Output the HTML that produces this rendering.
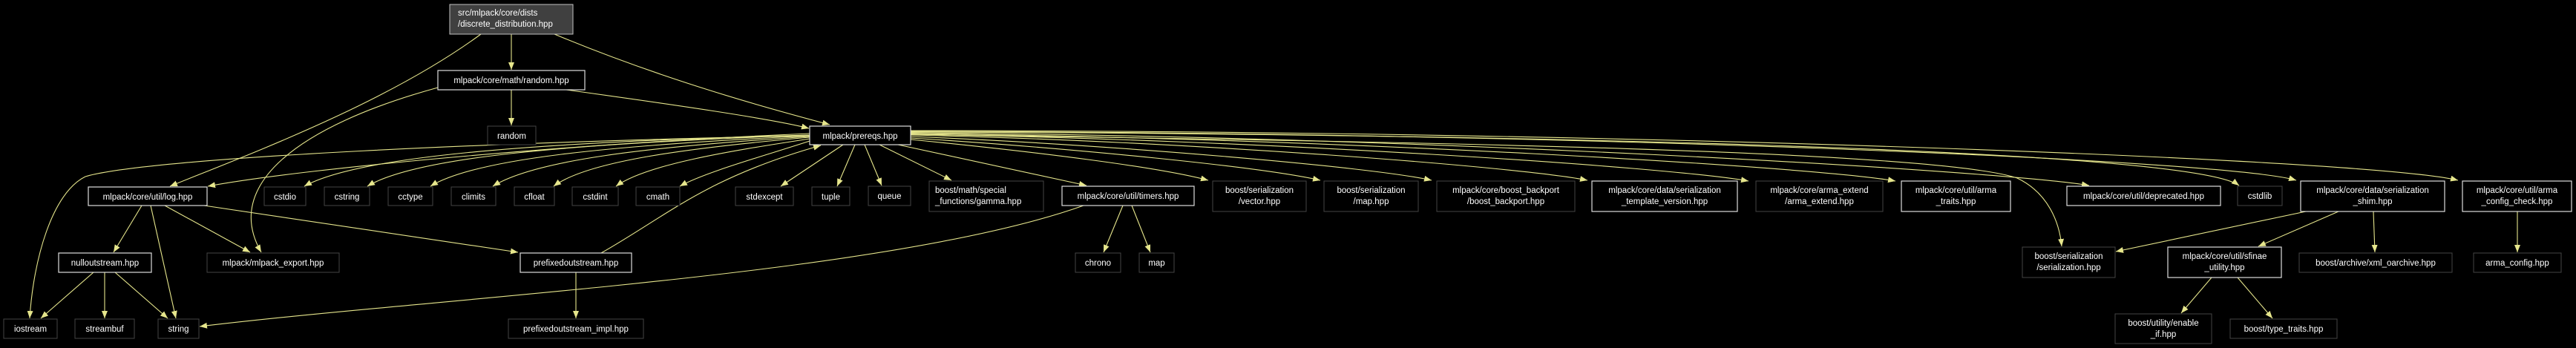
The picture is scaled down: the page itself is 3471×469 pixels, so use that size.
<!DOCTYPE html>
<html><head><meta charset="utf-8"><style>
html,body{margin:0;padding:0;background:#000;}
svg{display:block;}
text{font-family:"Liberation Sans",sans-serif;font-size:11.5px;fill:#fff;}
.n{fill:#000;stroke:#444;stroke-width:1}
.w{fill:#000;stroke:#ddd;stroke-width:1.2}
.e{fill:none;stroke:#e6e68c;stroke-width:1.1}
</style></head><body>
<svg width="3471" height="469" viewBox="0 0 3471 469" xmlns="http://www.w3.org/2000/svg">
<defs><marker id="a" markerUnits="userSpaceOnUse" markerWidth="11" markerHeight="8" refX="10" refY="4" orient="auto"><path d="M0,0 L10,4 L0,8 z" fill="#e6e68c"/></marker></defs>
<g class="e" marker-end="url(#a)">
<path d="M689,46 L689,94"/>
<path d="M648,46 C520,140 330,210 229,251"/>
<path d="M747,46 C900,110 1050,150 1118,168"/>
<path d="M689,121 L689,169"/>
<path d="M763,121 C900,140 1040,160 1090,173"/>
<path d="M590,118 C400,170 300,250 352,340"/>
<path d="M1091,180 C800,192 420,225 280,251"/>
<path d="M1091,183 C700,190 200,212 115,238 C70,260 45,350 40,429"/>
<path d="M1091,182 C700,192 480,212 410,251"/>
<path d="M1091,182 C760,194 560,212 495,251"/>
<path d="M1091,183 C820,196 640,214 580,251"/>
<path d="M1091,184 C870,198 720,216 664,251"/>
<path d="M1091,185 C920,200 790,218 746,251"/>
<path d="M1091,187 C980,204 870,222 830,251"/>
<path d="M1091,190 C1030,210 950,232 916,251"/>
<path d="M1136,195 L1052,251"/>
<path d="M1152,195 L1128,251"/>
<path d="M1165,195 L1188,250"/>
<path d="M1185,195 L1282,243"/>
<path d="M1210,195 L1464,250"/>
<path d="M1227,188 C1400,205 1560,225 1628,243"/>
<path d="M1227,186 C1450,200 1700,225 1779,243"/>
<path d="M1227,184 C1500,195 1850,225 1929,243"/>
<path d="M1227,182 C1600,190 2050,225 2139,243"/>
<path d="M1227,181 C1700,188 2250,225 2356,244"/>
<path d="M1227,180 C1800,186 2450,225 2554,244"/>
<path d="M1227,179 C1900,183 2700,230 2815,250"/>
<path d="M1227,178 C2000,180 2950,200 3017,250"/>
<path d="M1227,177 C2100,178 3000,215 3094,243"/>
<path d="M1227,176 C2200,176 3200,215 3312,243"/>
<path d="M1227,181 C1800,190 2600,200 2718,240 C2760,260 2775,300 2778,332"/>
<path d="M1460,277 C1200,370 600,400 269,440"/>
<path d="M1513,277 L1487,340"/>
<path d="M1525,277 L1550,340"/>
<path d="M191,277 L153,340"/>
<path d="M203,277 L237,429"/>
<path d="M222,277 L337,340"/>
<path d="M275,277 L698,340"/>
<path d="M810,341 C900,290 950,240 1106,196"/>
<path d="M776,367 L776,429"/>
<path d="M126,367 L55,429"/>
<path d="M141,367 L141,429"/>
<path d="M155,367 L226,429"/>
<path d="M3107,285 L2851,339"/>
<path d="M3151,285 L3043,332"/>
<path d="M3198,285 L3200,340"/>
<path d="M3392,285 L3392,340"/>
<path d="M2980,374 L2939,422"/>
<path d="M3015,374 L3062,429"/>
</g>
<rect x="606" y="6" width="166" height="40" fill="#404040" stroke="#bfbfbf"/>
<text x="617" y="21">src/mlpack/core/dists</text><text x="617" y="36">/discrete_distribution.hpp</text>
<g text-anchor="middle">
<rect class="w" x="590" y="95" width="198" height="26"/><text x="689" y="112">mlpack/core/math/random.hpp</text>
<rect class="n" x="657" y="170" width="65" height="25"/><text x="689.5" y="187">random</text>
<rect class="w" x="1091" y="170" width="136" height="25"/><text x="1159" y="187">mlpack/prereqs.hpp</text>
<rect class="w" x="119" y="252" width="160" height="25"/><text x="199" y="269">mlpack/core/util/log.hpp</text>
<rect class="n" x="356" y="252" width="56" height="25"/><text x="384" y="269">cstdio</text>
<rect class="n" x="437" y="252" width="61" height="25"/><text x="467.5" y="269">cstring</text>
<rect class="n" x="523" y="252" width="60" height="25"/><text x="553" y="269">cctype</text>
<rect class="n" x="608" y="252" width="60" height="25"/><text x="638" y="269">climits</text>
<rect class="n" x="693" y="252" width="54" height="25"/><text x="720" y="269">cfloat</text>
<rect class="n" x="771" y="252" width="62" height="25"/><text x="802" y="269">cstdint</text>
<rect class="n" x="857" y="252" width="59" height="25"/><text x="886.5" y="269">cmath</text>
<rect class="n" x="991" y="252" width="78" height="25"/><text x="1030" y="269">stdexcept</text>
<rect class="n" x="1094" y="252" width="51" height="25"/><text x="1119.5" y="269">tuple</text>
<rect class="n" x="1170" y="251" width="57" height="26"/><text x="1198.5" y="268">queue</text>
<rect class="w" x="1431" y="251" width="178" height="26"/><text x="1520" y="268">mlpack/core/util/timers.hpp</text>
<rect class="n" x="1634" y="244" width="126" height="41"/><text x="1697" y="260">boost/serialization</text><text x="1697" y="275">/vector.hpp</text>
<rect class="n" x="1784" y="244" width="127" height="41"/><text x="1847.5" y="260">boost/serialization</text><text x="1847.5" y="275">/map.hpp</text>
<rect class="n" x="1936" y="244" width="186" height="41"/><text x="2029" y="260">mlpack/core/boost_backport</text><text x="2029" y="275">/boost_backport.hpp</text>
<rect class="w" x="2145" y="244" width="196" height="41"/><text x="2243" y="260">mlpack/core/data/serialization</text><text x="2243" y="275">_template_version.hpp</text>
<rect class="n" x="2366" y="244" width="171" height="41"/><text x="2451.5" y="260">mlpack/core/arma_extend</text><text x="2451.5" y="275">/arma_extend.hpp</text>
<rect class="w" x="2562" y="244" width="147" height="41"/><text x="2635.5" y="260">mlpack/core/util/arma</text><text x="2635.5" y="275">_traits.hpp</text>
<rect class="w" x="2785" y="251" width="207" height="26"/><text x="2888.5" y="268">mlpack/core/util/deprecated.hpp</text>
<rect class="n" x="3015" y="251" width="60" height="26"/><text x="3045" y="268">cstdlib</text>
<rect class="w" x="3100" y="244" width="194" height="41"/><text x="3197" y="260">mlpack/core/data/serialization</text><text x="3197" y="275">_shim.hpp</text>
<rect class="w" x="3318" y="244" width="147" height="41"/><text x="3391.5" y="260">mlpack/core/util/arma</text><text x="3391.5" y="275">_config_check.hpp</text>
<rect class="w" x="79" y="341" width="125" height="26"/><text x="141.5" y="358">nulloutstream.hpp</text>
<rect class="n" x="279" y="341" width="178" height="26"/><text x="368" y="358">mlpack/mlpack_export.hpp</text>
<rect class="w" x="701" y="341" width="150" height="26"/><text x="776" y="358">prefixedoutstream.hpp</text>
<rect class="n" x="1449" y="341" width="61" height="26"/><text x="1479.5" y="358">chrono</text>
<rect class="n" x="1535" y="341" width="47" height="26"/><text x="1558.5" y="358">map</text>
<rect class="n" x="2725" y="333" width="125" height="41"/><text x="2787.5" y="349">boost/serialization</text><text x="2787.5" y="364">/serialization.hpp</text>
<rect class="w" x="2921" y="333" width="153" height="41"/><text x="2997.5" y="349">mlpack/core/util/sfinae</text><text x="2997.5" y="364">_utility.hpp</text>
<rect class="n" x="3098" y="341" width="206" height="26"/><text x="3201" y="358">boost/archive/xml_oarchive.hpp</text>
<rect class="n" x="3333" y="341" width="118" height="26"/><text x="3392" y="358">arma_config.hpp</text>
<rect class="n" x="5" y="430" width="72" height="26"/><text x="41" y="447">iostream</text>
<rect class="n" x="101" y="430" width="80" height="26"/><text x="141" y="447">streambuf</text>
<rect class="n" x="213" y="430" width="55" height="26"/><text x="240.5" y="447">string</text>
<rect class="n" x="685" y="430" width="182" height="26"/><text x="776" y="447">prefixedoutstream_impl.hpp</text>
<rect class="n" x="2850" y="423" width="130" height="40"/><text x="2915" y="439">boost/utility/enable</text><text x="2915" y="454">_if.hpp</text>
<rect class="n" x="3005" y="430" width="144" height="26"/><text x="3077" y="447">boost/type_traits.hpp</text>
</g>
<rect class="n" x="1252" y="244" width="154" height="41"/>
<text x="1260" y="260">boost/math/special</text><text x="1260" y="275">_functions/gamma.hpp</text>
</svg>
</body></html>
